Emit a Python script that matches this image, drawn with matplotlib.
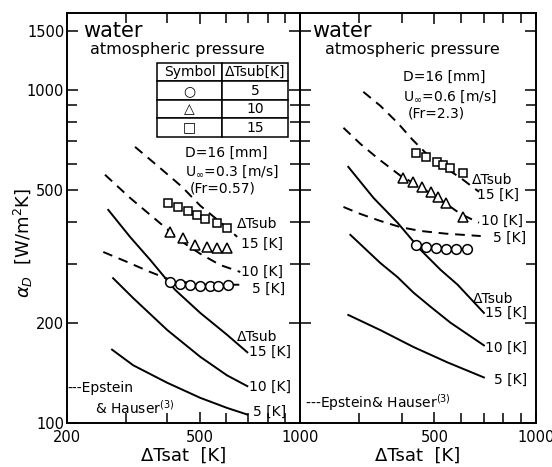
#!/usr/bin/env python3
"""Heat transfer coefficient alpha_D vs dTsat, two panels (U=0.3 and U=0.6 m/s)."""

import matplotlib
matplotlib.use("Agg")
import matplotlib.pyplot as plt
from matplotlib.ticker import FixedLocator, NullFormatter, FixedFormatter

plt.rcParams["font.family"] = ["DejaVu Sans"]

# ---- left panel: U = 0.3 m/s (Fr = 0.57) ----
L_exp5_x = [408, 437, 468, 502, 537, 568, 609]
L_exp5_y = [265, 261, 260, 258, 258, 258, 260]
L_exp10_x = [408, 446, 485, 526, 564, 604]
L_exp10_y = [375, 359, 342, 338, 335, 335]
L_exp15_x = [402, 431, 462, 491, 519, 564, 604]
L_exp15_y = [458, 445, 433, 421, 410, 399, 385]

L_ep5_x = [257, 299, 355, 408, 502, 662]
L_ep5_y = [326, 306, 284, 269, 260, 260]
L_ep10_x = [260, 309, 367, 408, 452, 502, 576, 662]
L_ep10_y = [556, 474, 410, 375, 345, 322, 298, 284]
L_ep15_x = [320, 380, 443, 502, 576, 648]
L_ep15_y = [674, 583, 511, 449, 401, 362]

L_pr5_x = [273, 316, 400, 502, 604, 695]
L_pr5_y = [166, 149, 132, 119, 111, 106]
L_pr10_x = [275, 316, 400, 502, 604, 695]
L_pr10_y = [272, 237, 190, 158, 139, 129]
L_pr15_x = [266, 309, 355, 422, 502, 604, 695]
L_pr15_y = [436, 362, 309, 251, 214, 184, 163]

# ---- right panel: U = 0.6 m/s (Fr = 2.3) ----
R_exp5_x = [440, 471, 505, 541, 578, 624]
R_exp5_y = [342, 338, 335, 333, 333, 333]
R_exp10_x = [403, 431, 461, 488, 511, 541, 607]
R_exp10_y = [544, 530, 511, 494, 477, 458, 415]
R_exp15_x = [440, 471, 508, 529, 558, 607]
R_exp15_y = [647, 629, 608, 595, 583, 563]

R_ep5_x = [269, 302, 346, 397, 455, 541, 686]
R_ep5_y = [445, 424, 404, 387, 377, 370, 364]
R_ep10_x = [269, 302, 341, 397, 455, 522, 598, 678]
R_ep10_y = [769, 688, 621, 552, 511, 467, 424, 399]
R_ep15_x = [308, 346, 389, 431, 471, 522, 598, 678]
R_ep15_y = [986, 895, 796, 708, 647, 595, 544, 494]

R_pr5_x = [278, 346, 434, 547, 701]
R_pr5_y = [211, 190, 169, 152, 137]
R_pr10_x = [282, 346, 389, 434, 488, 558, 701]
R_pr10_y = [367, 302, 274, 246, 223, 200, 171]
R_pr15_x = [278, 330, 389, 455, 522, 586, 701]
R_pr15_y = [587, 474, 399, 331, 288, 260, 214]

y_major = [100, 200, 500, 1000, 1500]
y_minor = [300, 400, 600, 700, 800, 900]
x_minor = [300, 400, 600, 700, 800, 900]

table_syms = ["\u25cb", "\u25b3", "\u25a1"]
table_sub = ["5", "10", "15"]

DASH = (0, (5, 3.5))
FS = 10


def style_axes(ax, xmajor, show_y):
    ax.set_xscale("log")
    ax.set_yscale("log")
    ax.set_xlim(200, 1000)
    ax.set_ylim(100, 1700)
    ax.xaxis.set_major_locator(FixedLocator(xmajor))
    ax.xaxis.set_major_formatter(FixedFormatter([str(v) for v in xmajor]))
    ax.xaxis.set_minor_locator(FixedLocator(x_minor))
    ax.xaxis.set_minor_formatter(NullFormatter())
    ax.yaxis.set_major_locator(FixedLocator(y_major))
    ax.yaxis.set_minor_locator(FixedLocator(y_minor))
    ax.yaxis.set_minor_formatter(NullFormatter())
    if show_y:
        ax.yaxis.set_major_formatter(FixedFormatter([str(v) for v in y_major]))
    else:
        ax.yaxis.set_major_formatter(NullFormatter())
    ax.tick_params(which="both", direction="in", top=True, right=True,
                   width=1.1, labelsize=10.5, colors="black")
    ax.tick_params(which="major", length=8)
    ax.tick_params(which="minor", length=7)
    ax.tick_params(axis="x", pad=5)
    ax.tick_params(axis="y", pad=2)
    for s in ax.spines.values():
        s.set_linewidth(1.4)


def draw_panel(ax, ep, pr, exp):
    kw = dict(color="black", lw=1.4)
    for x, y in ep:
        ax.plot(x, y, ls=DASH, **kw)
    for x, y in pr:
        ax.plot(x, y, ls="-", **kw)
    mk = dict(ls="none", mfc="white", mec="black", mew=1.1, zorder=3)
    (x5, y5), (x10, y10), (x15, y15) = exp
    ax.plot(x5, y5, marker="o", ms=7, **mk)
    ax.plot(x10, y10, marker="^", ms=7.5, **mk)
    ax.plot(x15, y15, marker="s", ms=6, **mk)


fig = plt.figure(figsize=(5.52, 4.67), dpi=100)
ax1 = fig.add_axes([67 / 552, 44 / 467, 233 / 552, 410 / 467])
ax2 = fig.add_axes([300 / 552, 44 / 467, 236 / 552, 410 / 467])

draw_panel(ax1,
           [(L_ep5_x, L_ep5_y), (L_ep10_x, L_ep10_y), (L_ep15_x, L_ep15_y)],
           [(L_pr5_x, L_pr5_y), (L_pr10_x, L_pr10_y), (L_pr15_x, L_pr15_y)],
           [(L_exp5_x, L_exp5_y), (L_exp10_x, L_exp10_y), (L_exp15_x, L_exp15_y)])
draw_panel(ax2,
           [(R_ep5_x, R_ep5_y), (R_ep10_x, R_ep10_y), (R_ep15_x, R_ep15_y)],
           [(R_pr5_x, R_pr5_y), (R_pr10_x, R_pr10_y), (R_pr15_x, R_pr15_y)],
           [(R_exp5_x, R_exp5_y), (R_exp10_x, R_exp10_y), (R_exp15_x, R_exp15_y)])
style_axes(ax1, [200, 500, 1000], True)
style_axes(ax2, [500, 1000], False)

# ---- left panel annotations ----
t = ax1.transAxes
ax1.text(0.069, 0.956, "water", transform=t, fontsize=15, va="center")
ax1.text(0.099, 0.910, "atmospheric pressure", transform=t, fontsize=11.5, va="center")
ax1.text(0.506, 0.659, "D=16 [mm]", transform=t, fontsize=FS, va="center")
ax1.text(0.506, 0.612, "U$_\\infty$=0.3 [m/s]", transform=t, fontsize=FS, va="center")
ax1.text(0.528, 0.571, "(Fr=0.57)", transform=t, fontsize=FS, va="center")
ax1.text(0.730, 0.485, "\u0394Tsub", transform=t, fontsize=FS, va="center")
ax1.text(0.748, 0.436, "15 [K]", transform=t, fontsize=FS, va="center")
ax1.text(0.748, 0.368, "10 [K]", transform=t, fontsize=FS, va="center")
ax1.text(0.792, 0.327, "5 [K]", transform=t, fontsize=FS, va="center")
ax1.text(0.728, 0.210, "\u0394Tsub", transform=t, fontsize=FS, va="center")
ax1.text(0.780, 0.173, "15 [K]", transform=t, fontsize=FS, va="center")
ax1.text(0.780, 0.088, "10 [K]", transform=t, fontsize=FS, va="center")
ax1.text(0.797, 0.026, "5 [K]", transform=t, fontsize=FS, va="center")
ax1.text(0.0, 0.085, "---Epstein", transform=t, fontsize=FS, va="center")
ax1.text(0.120, 0.037, "& Hauser$^{(3)}$", transform=t, fontsize=FS, va="center")

tab = ax1.table(cellText=[[s, n] for s, n in zip(table_syms, table_sub)],
                colLabels=["Symbol", "\u0394Tsub[K]"],
                cellLoc="center", bbox=[0.386, 0.698, 0.562, 0.180])
tab.auto_set_font_size(False)
tab.set_fontsize(10)
for cell in tab.get_celld().values():
    cell.set_linewidth(1.1)

# ---- right panel annotations ----
t = ax2.transAxes
ax2.text(0.051, 0.956, "water", transform=t, fontsize=15, va="center")
ax2.text(0.107, 0.910, "atmospheric pressure", transform=t, fontsize=11.5, va="center")
ax2.text(0.436, 0.844, "D=16 [mm]", transform=t, fontsize=FS, va="center")
ax2.text(0.436, 0.795, "U$_\\infty$=0.6 [m/s]", transform=t, fontsize=FS, va="center")
ax2.text(0.455, 0.754, "(Fr=2.3)", transform=t, fontsize=FS, va="center")
ax2.text(0.727, 0.592, "\u0394Tsub", transform=t, fontsize=FS, va="center")
ax2.text(0.748, 0.557, "15 [K]", transform=t, fontsize=FS, va="center")
ax2.text(0.767, 0.493, "10 [K]", transform=t, fontsize=FS, va="center")
ax2.text(0.818, 0.452, "5 [K]", transform=t, fontsize=FS, va="center")
ax2.text(0.733, 0.302, "\u0394Tsub", transform=t, fontsize=FS, va="center")
ax2.text(0.782, 0.268, "15 [K]", transform=t, fontsize=FS, va="center")
ax2.text(0.782, 0.183, "10 [K]", transform=t, fontsize=FS, va="center")
ax2.text(0.822, 0.105, "5 [K]", transform=t, fontsize=FS, va="center")
ax2.text(0.021, 0.051, "---Epstein& Hauser$^{(3)}$", transform=t, fontsize=FS, va="center")

ax1.set_xlabel("\u0394Tsat  [K]", fontsize=13, labelpad=1)
ax2.set_xlabel("\u0394Tsat  [K]", fontsize=13, labelpad=1)
fig.text(0.042, 0.48, "$\\alpha_D$  [W/m$^2$K]", rotation=90, fontsize=13,
         ha="center", va="center")

fig.savefig("out.png", dpi=100)
